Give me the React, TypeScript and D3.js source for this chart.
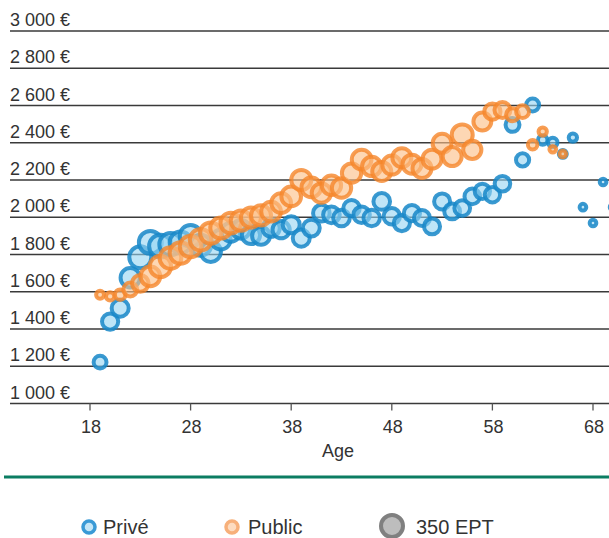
import React from "react";
import * as d3 from "d3";

const W = 609;
const H = 538;

const privateAges = [19,20,21,22,23,24,25,26,27,28,29,30,31,32,33,34,35,36,37,38,39,40,41,42,43,44,45,46,47,48,49,50,51,52,53,54,55,56,57,58,59,60,61,62,63,64,65,66,67,68,69,70];
const privateValues = [1222,1440,1512,1675,1785,1865,1845,1855,1865,1900,1850,1815,1880,1920,1935,1905,1900,1942,1933,1960,1888,1942,2022,2013,1996,2049,2013,1996,2085,2005,1969,2022,1996,1951,2085,2031,2049,2112,2139,2121,2180,2496,2308,2603,2415,2401,2340,2428,2054,1969,2189,2054];
const privateEPT = [120,190,210,270,350,380,370,360,340,340,320,300,280,260,250,240,230,220,215,210,210,205,200,200,200,195,195,195,200,195,190,190,185,185,185,180,180,175,170,170,175,140,125,120,65,65,45,50,32,32,32,32];

const publicAges = [19,20,21,22,23,24,25,26,27,28,29,30,31,32,33,34,35,36,37,38,39,40,41,42,43,44,45,46,47,48,49,50,51,52,53,54,55,56,57,58,59,60,61,62,63,64,65];
const publicValues = [1584,1575,1584,1612,1645,1683,1736,1781,1808,1843,1879,1915,1942,1969,1982,1998,2010,2030,2076,2112,2200,2160,2130,2172,2157,2237,2310,2273,2246,2280,2320,2285,2262,2312,2397,2326,2442,2362,2514,2567,2576,2550,2567,2389,2460,2365,2340];
const publicEPT = [45,50,80,140,200,280,330,340,340,340,340,330,320,310,300,290,290,280,280,280,290,280,270,270,270,270,280,270,260,260,260,260,260,260,260,260,320,240,230,190,185,120,120,65,50,32,32];

const yTicks = [1000,1200,1400,1600,1800,2000,2200,2400,2600,2800,3000];
const xTicks = [18,28,38,48,58,68];
const legendItems = ["Privé", "Public", "350 EPT"];
const legendEPT = 350;

const FONT = "'Liberation Sans', Arial, Helvetica, sans-serif";

export default function App() {
  const x = d3.scaleLinear().domain([18, 68]).range([90, 593]);
  const y = d3.scaleLinear().domain([1000, 3000]).range([403.5, 31]);
  const r = d3.scaleSqrt().domain([0, 350]).range([0, 11]);
  const fmt = (v: number) => d3.format(",")(v).replace(/,/g, " ") + " €";

  const priv = privateAges.map((a, i) => ({ a, v: privateValues[i], n: privateEPT[i] }));
  const pub = publicAges.map((a, i) => ({ a, v: publicValues[i], n: publicEPT[i] }));

  return (
    <div style={{ position: "absolute", left: 0, top: 0 }}>
      <svg width={W} height={H} style={{ display: "block", fontFamily: FONT }}>
        <rect width={W} height={H} fill="#fff" />
        {yTicks.map((t) => (
          <g key={t}>
            <line x1={10} x2={W} y1={y(t)} y2={y(t)} stroke="#3a3a3a" strokeWidth={1.4} />
            <text x={10} y={y(t) - 5} fontSize={18} fill="#333">{fmt(t)}</text>
          </g>
        ))}
        {xTicks.map((t) => (
          <g key={t}>
            <line x1={x(t)} x2={x(t)} y1={y(1000)} y2={y(1000) + 7} stroke="#555" strokeWidth={1.3} />
            <text x={x(t) + 1} y={433} fontSize={18} fill="#333" textAnchor="middle">{t}</text>
          </g>
        ))}
        <text x={338} y={457} fontSize={18} fill="#333" textAnchor="middle">Age</text>
        <g>
          {priv.map((d) => (
            <circle key={"p" + d.a} cx={x(d.a)} cy={y(d.v)} r={r(d.n)}
              fill="#94d3f2" fillOpacity={0.6} stroke="#1787c8" strokeOpacity={0.85} strokeWidth={4} />
          ))}
          {pub.map((d) => (
            <circle key={"u" + d.a} cx={x(d.a)} cy={y(d.v)} r={r(d.n)}
              fill="#fbbf86" fillOpacity={0.62} stroke="#f5862a" strokeOpacity={0.8} strokeWidth={4} />
          ))}
        </g>
        <line x1={4} x2={W} y1={477} y2={477} stroke="#0b7d62" strokeWidth={3} />
        <g fontSize={20} fill="#333">
          <circle cx={89} cy={527} r={6} fill="#c4e6f7" stroke="#3a9ad6" strokeWidth={3.5} />
          <text x={103} y={534}>{legendItems[0]}</text>
          <circle cx={232} cy={527} r={6} fill="#fddcc0" stroke="#f7b07a" strokeWidth={3.5} />
          <text x={248} y={534}>{legendItems[1]}</text>
          <circle cx={392} cy={526} r={r(legendEPT)} fill="#bdbdbd" stroke="#808080" strokeWidth={4} />
          <text x={416} y={534}>{legendItems[2]}</text>
        </g>
      </svg>
    </div>
  );
}
